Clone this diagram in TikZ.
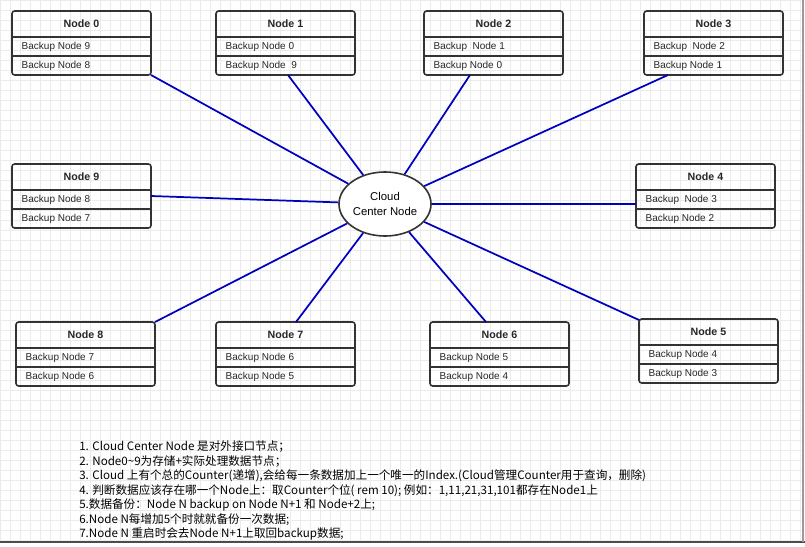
\documentclass[tikz,border=0pt]{standalone}
\usepackage{fontspec}
\setmainfont{Liberation Sans}
\newfontfamily\cjk{Noto Sans CJK SC}
\usetikzlibrary{positioning,shapes.geometric,calc}

\tikzset{
  boxline/.style={draw=black!80,line width=1.2pt},
  title/.style={font=\fontsize{8}{9}\selectfont\bfseries,text=black!85},
  row/.style={font=\fontsize{7.5}{9}\selectfont,text=black!85,anchor=west},
  link/.style={draw=blue!75!black,line width=1.3pt},
  note/.style={font=\fontsize{8.7}{10}\selectfont\cjk,anchor=west,inner sep=0pt}
}
% box: name, x, y (top left), title, row 1, row 2
\newcommand{\storebox}[6]{
  \draw[boxline,rounded corners=2pt] (#2,#3) rectangle ++(139,64);
  \draw[boxline] (#2,#3+26) -- ++(139,0) (#2,#3+45) -- ++(139,0);
  \node[title] (#1) at (#2+69.5,#3+13) {#4};
  \node[row] (#1a) at (#2+5,#3+35.5) {#5};
  \node[row] (#1b) at (#2+5,#3+54.5) {#6};
}

\begin{document}
\begin{tikzpicture}[x=0.75pt,y=-0.75pt]
  \useasboundingbox (0,0) rectangle (805,546);
  % grid
  \foreach \gx in {0,10,...,800} \draw[black!8,line width=0.4pt] (\gx,0) -- (\gx,540);
  \foreach \gy in {0,10,...,540} \draw[black!8,line width=0.4pt] (0,\gy) -- (802,\gy);
  \draw[black!70,line width=2pt] (0,542) -- (805,542);
  \draw[black!40,line width=1.5pt] (803,0) -- (803,542);

  \node[ellipse,draw=black!80,line width=1.2pt,fill=white,minimum width=69pt,minimum height=48pt,
        inner sep=0pt,align=center,font=\fontsize{8.5}{11}\selectfont] (cloud) at (385,204) {Cloud\\Center Node};

  \storebox{n0}{12}{11}{Node 0}{Backup Node 9}{Backup Node 8}
  \storebox{n1}{216}{11}{Node 1}{Backup Node 0}{Backup Node\ \ 9}
  \storebox{n2}{424}{11}{Node 2}{Backup\ \ Node 1}{Backup Node 0}
  \storebox{n3}{644}{11}{Node 3}{Backup\ \ Node 2}{Backup Node 1}
  \storebox{n9}{12}{164}{Node 9}{Backup Node 8}{Backup Node 7}
  \storebox{n4}{636}{164}{Node 4}{Backup\ \ Node 3}{Backup Node 2}
  \storebox{n8}{16}{322}{Node 8}{Backup Node 7}{Backup Node 6}
  \storebox{n7}{216}{322}{Node 7}{Backup Node 6}{Backup Node 5}
  \storebox{n6}{430}{322}{Node 6}{Backup Node 5}{Backup Node 4}
  \storebox{n5}{639}{319}{Node 5}{Backup Node 4}{Backup Node 3}

  \coordinate (p0) at (151,75);
  \coordinate (p1) at (288,75);
  \coordinate (p2) at (470,75);
  \coordinate (p3) at (668,75);
  \coordinate (p9) at (151,196);
  \coordinate (p4) at (636,204);
  \coordinate (p8) at (155,322);
  \coordinate (p7) at (296,322);
  \coordinate (p6) at (486,322);
  \coordinate (p5) at (639,320);
  \foreach \k in {0,1,2,3,9,4,8,7,6,5} \draw[link] (p\k) -- (cloud);

  \node[note] (t1) at (79,447) {1. Cloud Center Node 是对外接口节点；};
  \node[note] (t2) at (79,461.5) {2. Node0\textasciitilde9为存储+实际处理数据节点；};
  \node[note] (t3) at (79,476) {3. Cloud 上有个总的Counter(递增),会给每一条数据加上一个唯一的Index.(Cloud管理Counter用于查询，删除)};
  \node[note] (t4) at (79,490.5) {4. 判断数据应该存在哪一个Node上：取Counter个位( rem 10); 例如：1,11,21,31,101都存在Node1上};
  \node[note] (t5) at (79,505) {5.数据备份：Node N backup on Node N+1 和 Node+2上;};
  \node[note] (t6) at (79,519.5) {6.Node N每增加5个时就就备份一次数据;};
  \node[note] (t7) at (79,534) {7.Node N 重启时会去Node N+1上取回backup数据;};
\end{tikzpicture}
\end{document}
